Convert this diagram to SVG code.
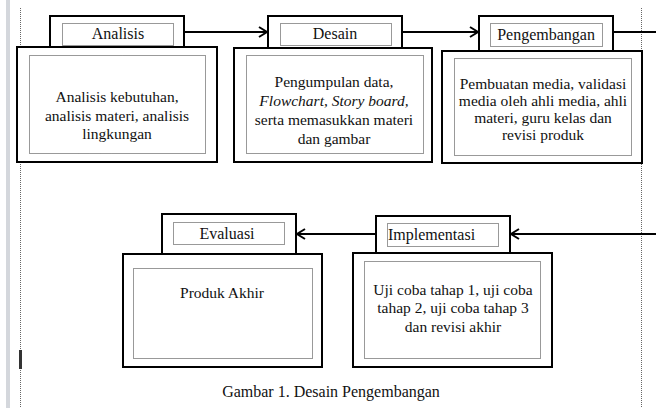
<svg xmlns="http://www.w3.org/2000/svg" width="656" height="408" viewBox="0 0 656 408">
<defs>
<marker id="arr" markerWidth="12" markerHeight="12" refX="9" refY="6" orient="auto" markerUnits="userSpaceOnUse">
<path d="M1,1 L9,6 L1,11" fill="none" stroke="#000" stroke-width="2"/>
</marker>
<style>
.box{fill:#fff;stroke:#000;stroke-width:2}
.dot{fill:none;stroke:#333;stroke-width:1;stroke-dasharray:1 1}
.t{font-family:"Liberation Serif","Times New Roman",serif;font-size:15.5px;fill:#111;text-anchor:middle}
.lbl{font-family:"Liberation Serif","Times New Roman",serif;font-size:16px;fill:#111;text-anchor:middle}
.con{fill:none;stroke:#000;stroke-width:2}
.page{fill:none;stroke:#666;stroke-width:1;stroke-dasharray:1 1}
</style>
</defs>
<rect width="656" height="408" fill="#fff"/>
<rect x="6" y="0" width="4" height="408" fill="#d4d7dc"/>
<line class="page" x1="20.5" y1="8" x2="20.5" y2="408"/>
<line class="page" x1="641.5" y1="8" x2="641.5" y2="408"/>
<rect x="19" y="350" width="3" height="19" fill="#333"/>

<g id="connectors">
<line class="con" x1="184" y1="32" x2="267" y2="32" marker-end="url(#arr)"/>
<line class="con" x1="402" y1="32" x2="478" y2="32" marker-end="url(#arr)"/>
<line class="con" x1="613" y1="32" x2="656" y2="32"/>
<line class="con" x1="656" y1="234" x2="511" y2="234" marker-end="url(#arr)"/>
<line class="con" x1="376" y1="234" x2="297" y2="234" marker-end="url(#arr)"/>
</g>

<g id="analisis">
<rect class="box" x="50" y="16" width="134" height="32"/>
<rect class="dot" x="62.5" y="23.5" width="111" height="22"/>
<text class="lbl" x="118" y="39">Analisis</text>
<rect class="box" x="17" y="47" width="200" height="115"/>
<rect class="dot" x="29.5" y="55.5" width="176" height="98"/>
<text class="t" x="117" y="102">Analisis kebutuhan,</text>
<text class="t" x="117" y="121">analisis materi, analisis</text>
<text class="t" x="117" y="139">lingkungan</text>
</g>

<g id="desain">
<rect class="box" x="268" y="16" width="134" height="32"/>
<rect class="dot" x="280.5" y="23.5" width="111" height="22"/>
<text class="lbl" x="335" y="39">Desain</text>
<rect class="box" x="234" y="48" width="198" height="114"/>
<rect class="dot" x="246.5" y="55.5" width="177" height="98"/>
<text class="t" x="334" y="87">Pengumpulan data,</text>
<text class="t" x="334" y="106" font-style="italic">Flowchart, Story board,</text>
<text class="t" x="334" y="125">serta memasukkan materi</text>
<text class="t" x="334" y="144">dan gambar</text>
</g>

<g id="pengembangan">
<rect class="box" x="479" y="16" width="134" height="35"/>
<rect class="dot" x="490.5" y="23.5" width="112" height="23"/>
<text class="lbl" x="546" y="40">Pengembangan</text>
<rect class="box" x="442" y="51" width="200" height="112"/>
<rect class="dot" x="454.5" y="58.5" width="177" height="97"/>
<text class="t" x="543" y="89">Pembuatan media, validasi</text>
<text class="t" x="543" y="106">media oleh ahli media, ahli</text>
<text class="t" x="543" y="123">materi, guru kelas dan</text>
<text class="t" x="543" y="140">revisi produk</text>
</g>

<g id="implementasi">
<rect class="box" x="376" y="216" width="134" height="37"/>
<rect class="dot" x="387.5" y="223.5" width="111" height="23"/>
<text class="lbl" x="388" y="240" style="text-anchor:start">Implementasi</text>
<rect class="box" x="353" y="253" width="199" height="114"/>
<rect class="dot" x="364.5" y="261.5" width="176" height="97"/>
<text class="t" x="453" y="295">Uji coba tahap 1, uji coba</text>
<text class="t" x="453" y="313">tahap 2, uji coba tahap 3</text>
<text class="t" x="453" y="332">dan revisi akhir</text>
</g>

<g id="evaluasi">
<rect class="box" x="162" y="214" width="134" height="40"/>
<rect class="dot" x="173.5" y="222.5" width="111" height="22"/>
<text class="lbl" x="227" y="239">Evaluasi</text>
<rect class="box" x="123" y="254" width="199" height="113"/>
<rect class="dot" x="133.5" y="268.5" width="179" height="90"/>
<text class="t" x="222" y="298">Produk Akhir</text>
</g>

<text x="331" y="397" style="font-family:'Liberation Serif','Times New Roman',serif;font-size:16px;fill:#111;text-anchor:middle">Gambar 1. Desain Pengembangan</text>
</svg>
